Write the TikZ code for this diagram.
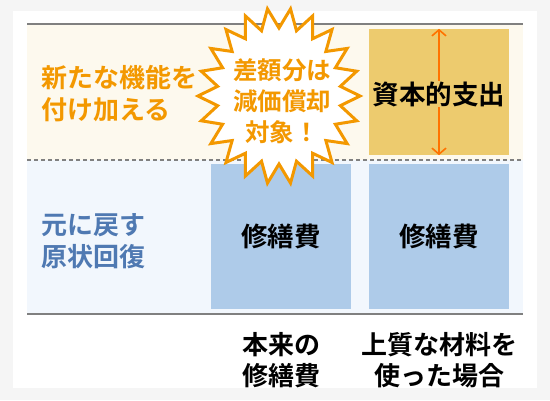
\documentclass[tikz,border=0pt]{standalone}
\usepackage{fontspec}
\setmainfont{Noto Sans CJK JP}[BoldFont={Noto Sans CJK JP Bold}]
\usepackage{tikz}
\usetikzlibrary{positioning, arrows.meta}
\definecolor{outerbg}{RGB}{245,245,245}
\definecolor{creamband}{RGB}{253,249,238}
\definecolor{blueband}{RGB}{242,247,253}
\definecolor{ruleGray}{RGB}{128,128,128}
\definecolor{capYellow}{RGB}{237,203,110}
\definecolor{repBlue}{RGB}{174,203,233}
\definecolor{labOrange}{RGB}{243,152,0}
\definecolor{labBlue}{RGB}{79,121,178}
\tikzset{
    x=1pt, y=-1pt, % pixel units, y runs downwards
    rule/.style={draw=ruleGray, line width=2pt}, % the two solid rules
    midrule/.style={draw=ruleGray, line width=2pt, dash pattern=on 4pt off 3pt}, % dashed middle rule
    capbox/.style={fill=capYellow, minimum width=140pt, minimum height=126pt, inner sep=0pt},
    repbox/.style={fill=repBlue, minimum width=140pt, minimum height=145pt, inner sep=0pt},
    boxtext/.style={font=\bfseries\fontsize{26.5}{31}\selectfont, text=black, inner sep=1pt},
    sidetext/.style={font=\bfseries\fontsize{26}{32}\selectfont, align=left, anchor=west, inner sep=0pt},
    foottext/.style={font=\bfseries\fontsize{26}{31}\selectfont, align=center, text=black, inner sep=0pt},
    burstline/.style={draw=labOrange, line width=3pt, fill=white, line join=miter},
    bursttext/.style={font=\bfseries\fontsize{24.5}{31}\selectfont, align=center, text=labOrange, inner sep=0pt},
    span/.style={draw=orange!90!red, line width=1.6pt, {Straight Barb[length=6pt,width=14pt]}-{Straight Barb[length=6pt,width=14pt]}},
}
\begin{document}
\begin{tikzpicture}
        % background and bands
        \fill[outerbg] (0,0) rectangle (550,400);
        \fill[white] (13,11) rectangle (537,388);
        \fill[creamband] (27,24) rectangle (523,160);
        \fill[blueband] (27,160) rectangle (523,313);

        % rules
        \coordinate (TL) at (27,24);  \coordinate (TR) at (523,24);
        \coordinate (ML) at (27,160); \coordinate (MR) at (523,160);
        \coordinate (BL) at (27,314); \coordinate (BR) at (523,314);
        \draw[rule] (TL) -- (TR);
        \draw[midrule] (ML) -- (MR);
        \draw[rule] (BL) -- (BR);

        % boxes
        \node[capbox] (CAPEX) at (439,92) {};
        \node[repbox] (REP_STD) at (281,236.5) {};
        \node[repbox] (REP_HQ)  at (439,236.5) {};

        % arrow through the capital box
        \draw[span] (CAPEX.north) -- (CAPEX.south);
        \node[boxtext, fill=capYellow] (CAPEX_T) at (439,94) {資本的支出};
        \node[boxtext] at (REP_STD) {修繕費};
        \node[boxtext] at (REP_HQ)  {修繕費};

        % row labels
        \node[sidetext, text=labOrange] (NEWFN) at (41,94) {新たな機能を\\付け加える};
        \node[sidetext, text=labBlue]   (RESTORE) at (41,241) {元に戻す\\原状回復};

        % column labels
        \node[foottext] (FOOT_STD) at (281,360) {本来の\\修繕費};
        \node[foottext] (FOOT_HQ)  at (439,360) {上質な材料を\\使った場合};

        % starburst
        \coordinate (BURST) at (279,96);
        \begin{scope}[shift={(BURST)}]
            \draw[burstline] (0:81) \foreach \i in {1,...,43} {
                -- ({cos(\i*360/44)*ifthenelse(mod(\i,2)==0,81,62)},
                    {sin(\i*360/44)*ifthenelse(mod(\i,2)==0,88,68)})
            } -- cycle;
        \end{scope}
        \node[bursttext] (BURST_T) at (282,101) {差額分は\\減価償却\\対象！};
\end{tikzpicture}
\end{document}
